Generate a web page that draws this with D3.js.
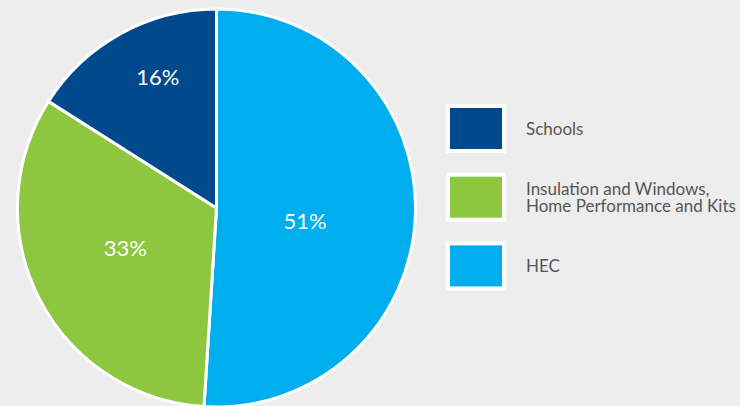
<!DOCTYPE html>
<html>
<head>
<meta charset="utf-8">
<script src="https://cdn.jsdelivr.net/npm/d3@7"></script>
<style>
  html, body { margin: 0; padding: 0; background: #ededed; }
  svg { display: block; }
</style>
</head>
<body>
<svg id="chart" width="740" height="406"></svg>
<script>
// Share of program by segment (percent), clockwise from 12 o'clock
const segments = ["HEC", "Insulation and Windows, Home Performance and Kits", "Schools"];
const shares = [51, 33, 16];
const colors = ["#00adee", "#8dc63f", "#00498d"];

// Legend order and wrapped label lines
const legendOrder = ["Schools", "Insulation and Windows, Home Performance and Kits", "HEC"];
const legendLines = [["Schools"], ["Insulation and Windows,", "Home Performance and Kits"], ["HEC"]];

// Label placement inside each slice: angle shift (radians) and radius fraction
const labelAngleShift = [0.115, 0.06, 0.08];
const labelRadiusFrac = [0.45, 0.50, 0.72];

const W = 740, H = 406;
const cx = 216.5, cy = 208, R = 199;

const svg = d3.select("#chart");
svg.append("rect").attr("width", W).attr("height", H).attr("fill", "#ededed");

const color = d3.scaleOrdinal().domain(segments).range(colors);

const pie = d3.pie().value(d => d.v).sort(null);
const data = segments.map((s, i) => ({ name: s, v: shares[i], i }));
const arcs = pie(data);

const arc = d3.arc().innerRadius(0).outerRadius(R);

const g = svg.append("g").attr("transform", `translate(${cx},${cy})`);

g.selectAll("path.slice")
  .data(arcs)
  .join("path")
  .attr("class", "slice")
  .attr("d", arc)
  .attr("fill", d => color(d.data.name))
  .attr("stroke", "#ffffff")
  .attr("stroke-width", 3)
  .attr("stroke-linejoin", "miter");

// Percentage labels
const labelPos = d => {
  const a = (d.startAngle + d.endAngle) / 2 + labelAngleShift[d.data.i];
  const r = R * labelRadiusFrac[d.data.i];
  return [Math.sin(a) * r, -Math.cos(a) * r];
};

g.selectAll("text.pct")
  .data(arcs)
  .join("text")
  .attr("class", "pct")
  .attr("x", d => labelPos(d)[0])
  .attr("y", d => labelPos(d)[1])
  .attr("dy", "0.36em")
  .attr("text-anchor", "middle")
  .attr("fill", "#ffffff")
  .attr("font-family", "Lato, 'Open Sans', sans-serif")
  .attr("font-size", 22)
  .text(d => d.data.v + "%");

// Legend: white-framed swatches with labels
const legendY = d3.scalePoint().domain(legendOrder).range([104, 104 + 2 * 68.7]);

const items = svg.append("g").attr("class", "legend")
  .selectAll("g.item")
  .data(legendOrder)
  .join("g")
  .attr("class", "item")
  .attr("transform", d => `translate(446, ${legendY(d)})`);

items.append("rect")
  .attr("width", 60).attr("height", 49)
  .attr("fill", "#ffffff");
items.append("rect")
  .attr("x", 4).attr("y", 4)
  .attr("width", 52).attr("height", 41)
  .attr("fill", d => color(d));

items.each(function (d, i) {
  const lines = legendLines[i];
  const t = d3.select(this).append("text")
    .attr("fill", "#555555")
    .attr("font-family", "Lato, 'Open Sans', sans-serif")
    .attr("font-size", 17);
  const lh = 17.7;
  const base = 24.5 + 6.3 - (lines.length - 1) * lh / 2;
  lines.forEach((ln, k) => {
    t.append("tspan").attr("x", 80).attr("y", base + k * lh).text(ln);
  });
});
</script>
</body>
</html>
